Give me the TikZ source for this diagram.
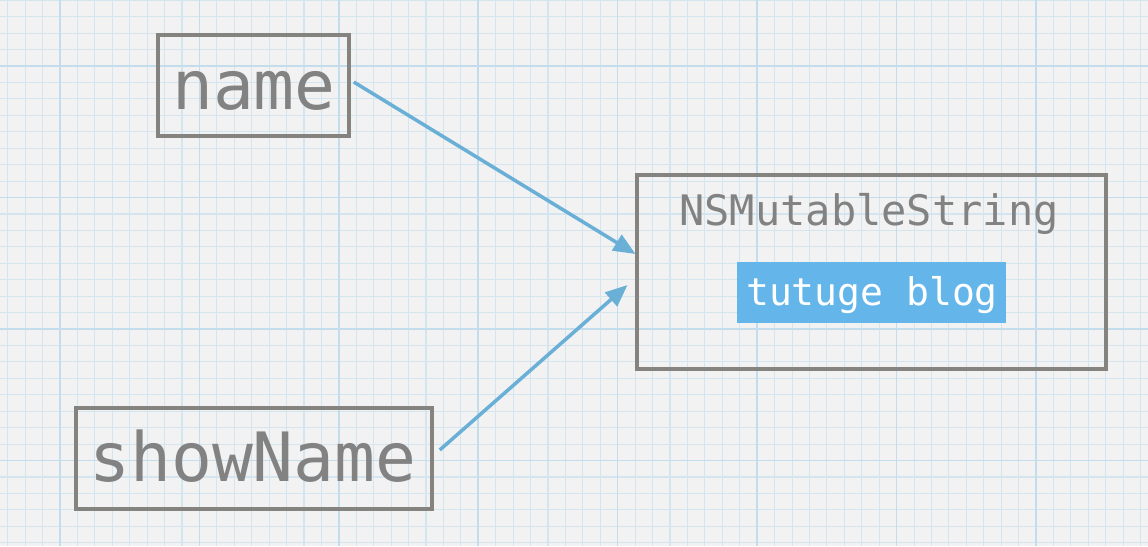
\documentclass[tikz,border=0pt]{standalone}
\usepackage{fontspec}
\newfontfamily\monofam{DejaVu Sans Mono}
\usetikzlibrary{arrows.meta,calc}
\definecolor{paper}{HTML}{F2F2F2}
\definecolor{gridminor}{HTML}{D5E5EF}
\definecolor{gridmajor}{HTML}{C4DDEC}
\definecolor{penGray}{HTML}{858380}
\definecolor{txtGray}{HTML}{828282}
\definecolor{arrowBlue}{HTML}{6AAFD6}
\definecolor{valBlue}{HTML}{64B6EA}
\tikzset{
  minorline/.style={gridminor, line width=1.1pt},
  majorline/.style={gridmajor, line width=1.7pt},
  varbox/.style={draw=penGray, line width=3.5pt, inner sep=0pt},
  objbox/.style={draw=penGray, line width=4pt, inner sep=0pt},
  valbox/.style={fill=valBlue, inner sep=0pt},
  bigtxt/.style={text=txtGray, font=\monofam\fontsize{68}{70}\selectfont, inner sep=0pt, anchor=base},
  midtxt/.style={text=txtGray, font=\monofam\fontsize{42}{44}\selectfont, inner sep=0pt, anchor=base},
  valtxt/.style={text=white, font=\monofam\fontsize{38}{40}\selectfont, inner sep=0pt, anchor=base},
  refarrow/.style={draw=arrowBlue, line width=3.5pt, -{Triangle[length=22pt,width=18pt]}},
}
\begin{document}
\begin{tikzpicture}[x=1pt,y=-1pt]
\useasboundingbox (0,0) rectangle (1148,546);
\fill[paper] (0,0) rectangle (1148,546);
% grid
\foreach \i in {0,...,65} \draw[minorline] ({7.7+\i*17.43},0) -- ({7.7+\i*17.43},546);
\foreach \j in {0,...,33} \draw[minorline] (0,{0.25+\j*16.44}) -- (1148,{0.25+\j*16.44});
\foreach \i in {0,...,7} \draw[majorline] ({60+\i*139.4},0) -- ({60+\i*139.4},546);
\foreach \j in {0,...,3} \draw[majorline] (0,{66+\j*131.5}) -- (1148,{66+\j*131.5});
% variables
\node[varbox, minimum width=191pt, minimum height=101pt] (name) at (253.5,85.5) {};
\node[bigtxt] (nametxt) at (254,109) {name};
\node[varbox, minimum width=356pt, minimum height=101pt] (show) at (254,458.5) {};
\node[bigtxt] (showtxt) at (253,481.5) {showName};
% object
\node[objbox, minimum width=469pt, minimum height=194pt] (obj) at (871,272) {};
\node[midtxt] (cls) at (869,225) {NSMutableString};
\node[valbox, minimum width=269pt, minimum height=61pt] (val) at (871.5,292.5) {};
\node[valtxt] (valtxt) at (872,305) {tutuge blog};
% arrows
\draw[refarrow] ($(name.east)+(3,-3.5)$) -- ($(obj.west)+(1,-18)$);
\draw[refarrow] ($(show.east)+(6,-8.5)$) -- ($(obj.west)+(-7,13)$);
\end{tikzpicture}
\end{document}
